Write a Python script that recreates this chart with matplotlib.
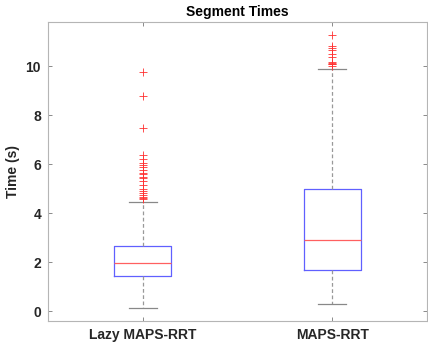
import matplotlib
matplotlib.use('Agg')
import matplotlib.pyplot as plt

plt.rcParams['font.family'] = ['Liberation Sans', 'DejaVu Sans']

# Box statistics (seconds)
labels = ['Lazy MAPS-RRT', 'MAPS-RRT']
q1 = [1.43, 1.67]
median = [1.96, 2.90]
q3 = [2.65, 4.97]
whis_lo = [0.13, 0.31]
whis_hi = [4.46, 9.90]
fliers_lazy = [9.78, 8.80, 7.48, 6.37, 6.20, 6.04, 5.96, 5.88, 5.76, 5.63, 5.59,
               5.47, 5.43, 5.31, 5.14, 4.98, 4.91, 4.82, 4.73, 4.65, 4.61, 4.56]
fliers_maps = [11.27, 10.83, 10.75, 10.64, 10.50, 10.37, 10.15, 10.12, 10.10,
               10.07, 10.02]
fliers = [fliers_lazy, fliers_maps]

stats = []
for i in range(len(labels)):
    stats.append({'label': labels[i], 'q1': q1[i], 'med': median[i], 'q3': q3[i],
                  'whislo': whis_lo[i], 'whishi': whis_hi[i], 'fliers': fliers[i]})

fig = plt.figure(figsize=(4.28, 3.47), dpi=100)
ax = fig.add_axes([0.1121, 0.0749, 0.8856, 0.8617])

ax.bxp(stats, positions=[1, 2], widths=0.3, showfliers=True,
       boxprops=dict(color='#6060ff', linewidth=0.9),
       medianprops=dict(color='#ff6060', linewidth=0.9),
       whiskerprops=dict(color='#999999', linewidth=0.9, linestyle=(0, (3, 2))),
       capprops=dict(color='#888888', linewidth=0.9),
       flierprops=dict(marker='+', markeredgecolor='#ff3030', markersize=6,
                       markeredgewidth=0.6, linestyle='none'))
# caps are half the box width in the reference
for line in ax.lines:
    pass

ax.set_xlim(0.5, 2.5)
ax.set_ylim(-0.4, 11.8)
ax.set_yticks([0, 2, 4, 6, 8, 10])
ax.set_xticks([1, 2])
ax.set_xticklabels(labels)

for s in ax.spines.values():
    s.set_color('#b5b5b5')
    s.set_linewidth(0.8)
ax.tick_params(direction='in', length=3, width=0.6, color='#777777',
               top=True, right=True, labelsize=10, labelcolor='#262626', pad=5)
for t in ax.get_xticklabels() + ax.get_yticklabels():
    t.set_fontweight('bold')

ax.set_ylabel('Time (s)', fontsize=10, fontweight='bold', color='#262626')
ax.set_title('Segment Times', fontsize=10, fontweight='bold', pad=4)

fig.savefig('out.png', dpi=100)
